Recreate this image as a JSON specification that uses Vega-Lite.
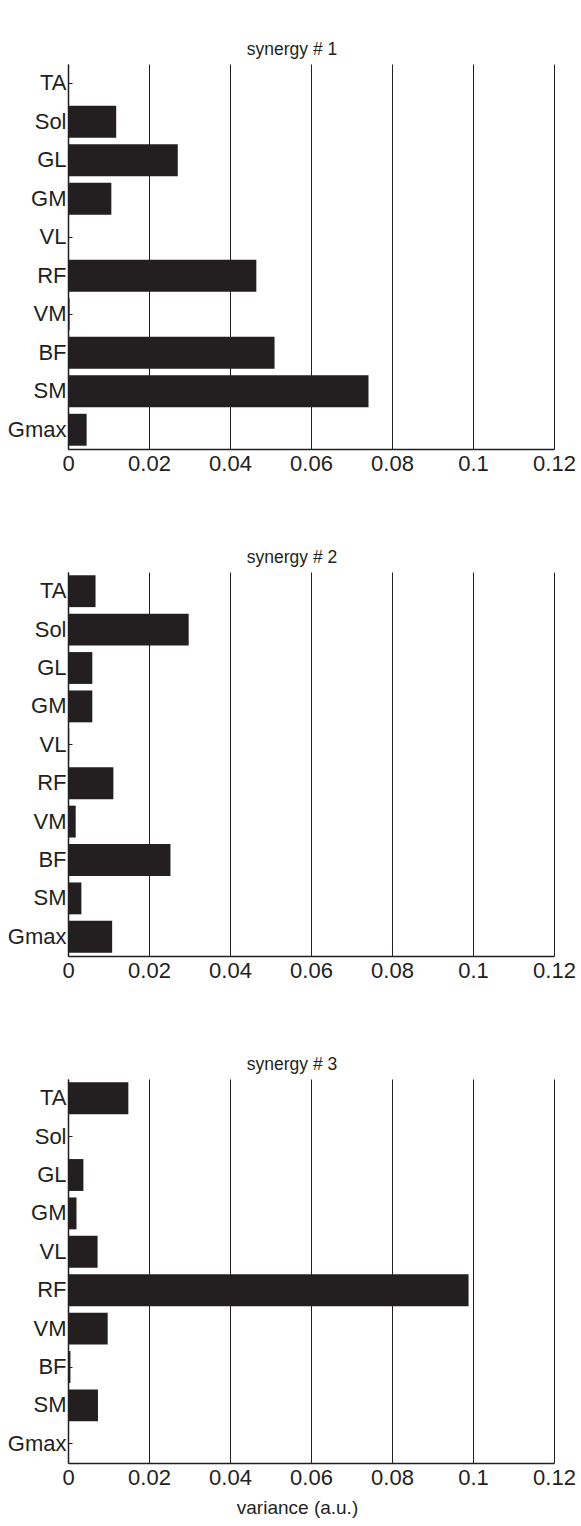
{
  "$schema": "https://vega.github.io/schema/vega-lite/v6.json",
  "background": "white",
  "padding": {"left": 7, "top": 40, "right": 5, "bottom": 5},
  "datasets": {
    "syn": [
      {"synergy": 1, "muscle": "TA", "variance": 0},
      {"synergy": 1, "muscle": "Sol", "variance": 0.0119},
      {"synergy": 1, "muscle": "GL", "variance": 0.0271},
      {"synergy": 1, "muscle": "GM", "variance": 0.0107},
      {"synergy": 1, "muscle": "VL", "variance": 0},
      {"synergy": 1, "muscle": "RF", "variance": 0.0465},
      {"synergy": 1, "muscle": "VM", "variance": 0.0004},
      {"synergy": 1, "muscle": "BF", "variance": 0.051},
      {"synergy": 1, "muscle": "SM", "variance": 0.0742},
      {"synergy": 1, "muscle": "Gmax", "variance": 0.0046},
      {"synergy": 2, "muscle": "TA", "variance": 0.0068},
      {"synergy": 2, "muscle": "Sol", "variance": 0.0298},
      {"synergy": 2, "muscle": "GL", "variance": 0.006},
      {"synergy": 2, "muscle": "GM", "variance": 0.006},
      {"synergy": 2, "muscle": "VL", "variance": 0.0003},
      {"synergy": 2, "muscle": "RF", "variance": 0.0112},
      {"synergy": 2, "muscle": "VM", "variance": 0.0019},
      {"synergy": 2, "muscle": "BF", "variance": 0.0253},
      {"synergy": 2, "muscle": "SM", "variance": 0.0033},
      {"synergy": 2, "muscle": "Gmax", "variance": 0.0109},
      {"synergy": 3, "muscle": "TA", "variance": 0.0149},
      {"synergy": 3, "muscle": "Sol", "variance": 0},
      {"synergy": 3, "muscle": "GL", "variance": 0.0038},
      {"synergy": 3, "muscle": "GM", "variance": 0.0021},
      {"synergy": 3, "muscle": "VL", "variance": 0.0073},
      {"synergy": 3, "muscle": "RF", "variance": 0.0989},
      {"synergy": 3, "muscle": "VM", "variance": 0.0098},
      {"synergy": 3, "muscle": "BF", "variance": 0.0006},
      {"synergy": 3, "muscle": "SM", "variance": 0.0074},
      {"synergy": 3, "muscle": "Gmax", "variance": 0}
    ]
  },
  "config": {
    "font": "Liberation Sans",
    "view": {"stroke": null},
    "title": {"fontSize": 17.5, "fontWeight": "normal", "color": "#231f20", "offset": 6, "dx": -19},
    "axis": {"labelColor": "#231f20", "labelFont": "Liberation Sans", "titleFont": "Liberation Sans", "titleColor": "#231f20", "titleFontWeight": "normal"},
    "bar": {"color": "#231f20"}
  },
  "spacing": 123,
  "bounds": "flush",
  "vconcat": [
    {
      "title": "synergy # 1",
      "width": 486, "height": 385,
      "data": {"name": "syn"},
      "transform": [{"filter": "datum.synergy == 1"}],
      "mark": {"type": "bar"},
      "encoding": {
        "y": {"field": "muscle", "type": "nominal", "sort": ["TA","Sol","GL","GM","VL","RF","VM","BF","SM","Gmax"],
              "scale": {"paddingInner": 0.17, "paddingOuter": 0.085},
              "axis": {"title": null, "labelFontSize": 22, "labelPadding": 6, "tickSize": -4, "tickColor": "#231f20", "domainColor": "#231f20", "domainWidth": 1.5}},
        "x": {"field": "variance", "type": "quantitative",
              "scale": {"domain": [0, 0.12], "nice": false},
              "axis": {"title": null, "values": [0,0.02,0.04,0.06,0.08,0.1,0.12], "format": ".2~f", "labelFontSize": 22, "labelPadding": 4, "ticks": false, "grid": true, "gridColor": "#231f20", "gridOpacity": 1, "gridWidth": 1, "domainColor": "#231f20", "domainWidth": 1.5, "labelFlush": false}}
      }
    },
    {
      "title": "synergy # 2",
      "width": 486, "height": 384,
      "data": {"name": "syn"},
      "transform": [{"filter": "datum.synergy == 2"}],
      "mark": {"type": "bar"},
      "encoding": {
        "y": {"field": "muscle", "type": "nominal", "sort": ["TA","Sol","GL","GM","VL","RF","VM","BF","SM","Gmax"],
              "scale": {"paddingInner": 0.17, "paddingOuter": 0.085},
              "axis": {"title": null, "labelFontSize": 22, "labelPadding": 6, "tickSize": -4, "tickColor": "#231f20", "domainColor": "#231f20", "domainWidth": 1.5}},
        "x": {"field": "variance", "type": "quantitative",
              "scale": {"domain": [0, 0.12], "nice": false},
              "axis": {"title": null, "values": [0,0.02,0.04,0.06,0.08,0.1,0.12], "format": ".2~f", "labelFontSize": 22, "labelPadding": 4, "ticks": false, "grid": true, "gridColor": "#231f20", "gridOpacity": 1, "gridWidth": 1, "domainColor": "#231f20", "domainWidth": 1.5, "labelFlush": false}}
      }
    },
    {
      "title": "synergy # 3",
      "width": 486, "height": 384,
      "data": {"name": "syn"},
      "transform": [{"filter": "datum.synergy == 3"}],
      "mark": {"type": "bar"},
      "encoding": {
        "y": {"field": "muscle", "type": "nominal", "sort": ["TA","Sol","GL","GM","VL","RF","VM","BF","SM","Gmax"],
              "scale": {"paddingInner": 0.17, "paddingOuter": 0.085},
              "axis": {"title": null, "labelFontSize": 22, "labelPadding": 6, "tickSize": -4, "tickColor": "#231f20", "domainColor": "#231f20", "domainWidth": 1.5}},
        "x": {"field": "variance", "type": "quantitative",
              "scale": {"domain": [0, 0.12], "nice": false},
              "axis": {"title": "variance (a.u.)", "titleFontSize": 19, "titlePadding": 10, "titleX": 229, "values": [0,0.02,0.04,0.06,0.08,0.1,0.12], "format": ".2~f", "labelFontSize": 22, "labelPadding": 4, "ticks": false, "grid": true, "gridColor": "#231f20", "gridOpacity": 1, "gridWidth": 1, "domainColor": "#231f20", "domainWidth": 1.5, "labelFlush": false}}
      }
    }
  ]
}
